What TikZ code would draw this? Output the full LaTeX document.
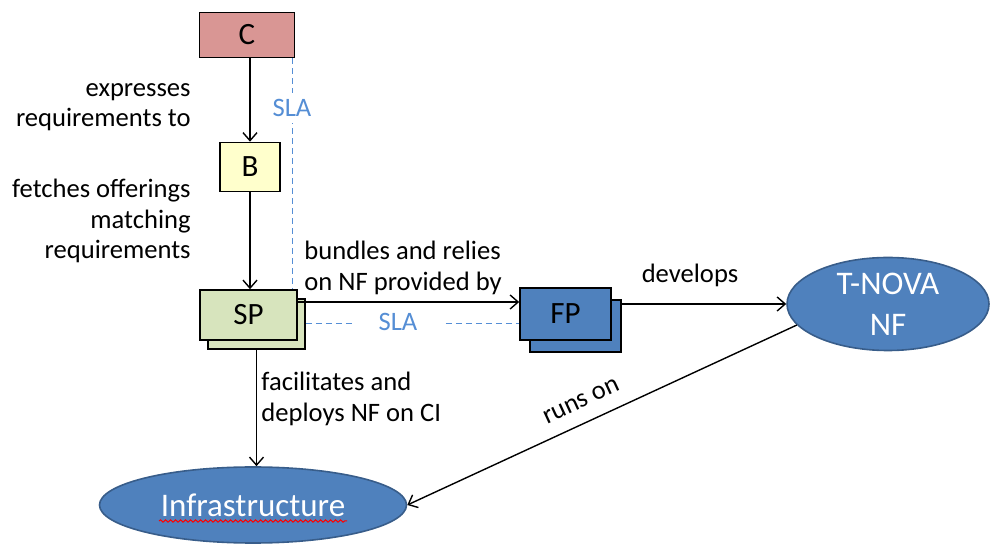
\documentclass[tikz,border=0pt]{standalone}
\usepackage{fontspec}
\setmainfont{Carlito}
\usetikzlibrary{shapes.geometric,arrows.meta,decorations.pathmorphing}
\definecolor{custred}{HTML}{D99694}
\definecolor{brokyellow}{HTML}{FFFFCC}
\definecolor{spgreen}{HTML}{D7E4BD}
\definecolor{nfblue}{HTML}{4F81BD}
\definecolor{nfedge}{HTML}{385D8A}
\definecolor{slablue}{HTML}{558ED5}
\begin{document}
\begin{tikzpicture}[x=0.5pt,y=-0.5pt,
    actor/.style={draw=black,line width=0.8pt,inner sep=0pt,font=\fontsize{15.5}{18}\selectfont},
    nf/.style={ellipse,draw=nfedge,line width=0.8pt,fill=nfblue,text=white,inner sep=0pt,
        align=center,font=\fontsize{16.5}{20.5}\selectfont},
    lbl/.style={inner sep=0pt,font=\fontsize{13.3}{15.2}\selectfont},
    flow/.style={-{Straight Barb[length=4pt,width=7pt]},line width=0.7pt},
    sla/.style={slablue,dashed,dash pattern=on 3pt off 2pt,line width=0.5pt},
    slatext/.style={fill=white,text=slablue,inner sep=3pt,font=\fontsize{13.3}{15.2}\selectfont}]
        \useasboundingbox (0,0) rectangle (990,544);

        \node[actor,fill=custred,minimum width=47.5pt,minimum height=22.5pt] (C) at (247,35) {C};
        \node[actor,fill=brokyellow,minimum width=30pt,minimum height=24.5pt] (B) at (250,167) {B};
        \node[actor,fill=spgreen,minimum width=48.5pt,minimum height=25pt] (SPback) at (256.5,324) {};
        \node[actor,fill=spgreen,minimum width=48.5pt,minimum height=25pt] (SP) at (248.5,315) {SP};
        \node[nf,minimum width=101pt,minimum height=46.5pt] (TNOVA) at (888,304) {T-NOVA\\NF};
        \node[nf,minimum width=153.5pt,minimum height=38pt] (Infra) at (253,505) {Infrastructure};
        \draw[red,line width=0.5pt,decorate,decoration={snake,amplitude=0.6pt,segment length=2.5pt}]
            ([xshift=-47pt,yshift=-8pt]Infra.center) -- ([xshift=47pt,yshift=-8pt]Infra.center);

        \draw[sla] ([xshift=-1.5pt]C.south east) -- ([xshift=-1.5pt]C.south east |- SP.north);
        \node[slatext] (sla1) at (292,108) {SLA};
        \draw[sla] (SPback.east) -- (SPback.east -| 520,0);
        \node[slatext,minimum width=45pt] (sla2) at (398,322) {SLA};

        \node[actor,fill=nfblue,minimum width=45.5pt,minimum height=26pt] (FPback) at (575.5,326) {};
        \node[actor,fill=nfblue,minimum width=45.5pt,minimum height=26pt] (FP) at (565.5,314) {FP};

        \draw[flow] (C.south -| B.north) -- (B.north);
        \draw[flow] (B.south) -- (B.south |- SP.north);
        \draw[flow] ([yshift=6.5pt]SP.east) -- ([yshift=6.5pt]SP.east -| FP.west);
        \draw[flow] (FPback.east |- TNOVA.west) -- (TNOVA.west);
        \draw[flow] (SPback.south) -- (SPback.south |- Infra.north);
        \draw[flow] (TNOVA.193) -- node[lbl,sloped,pos=0.53,above=7pt] (runs) {runs on} (Infra.east);

        \node[lbl,anchor=east,align=right] (expr) at (191,107) {expresses\\requirements to};
        \node[lbl,anchor=east,align=right] (fetch) at (191,221) {fetches offerings\\matching\\requirements};
        \node[lbl,anchor=west,align=left] (bundle) at (304,268) {bundles and relies\\on NF provided by};
        \node[lbl] (dev) at (690,275) {develops};
        \node[lbl,anchor=west,align=left] (facil) at (261,399) {facilitates and\\deploys NF on CI};
\end{tikzpicture}
\end{document}
